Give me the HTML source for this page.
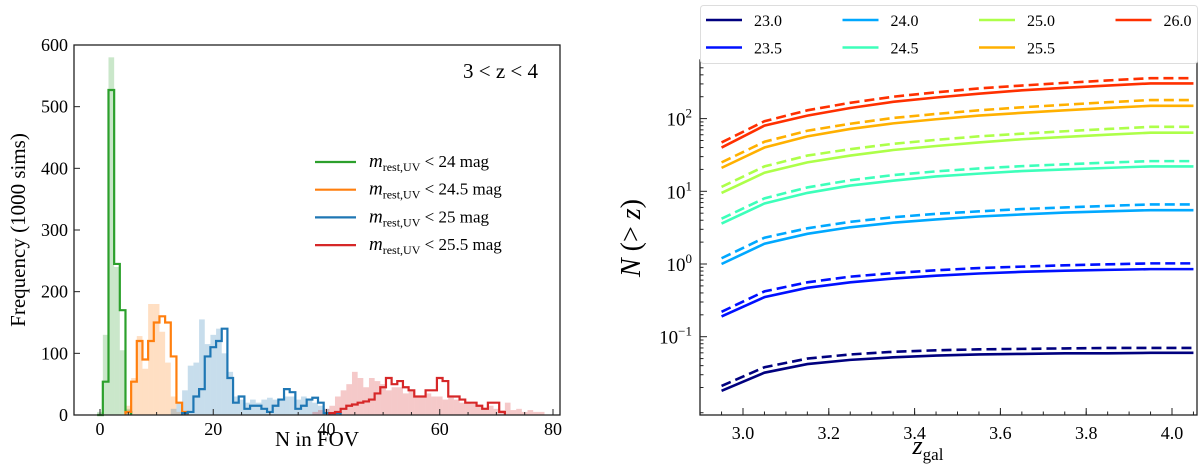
<!DOCTYPE html>
<html><head><meta charset="utf-8"><style>
body{margin:0;background:#fff;}
svg{font-family:"Liberation Serif",serif;display:block}
</style></head><body>
<svg id="fig" width="1200" height="470"></svg>
<script>
// ---- Left histogram data (bin centers = integer N) ----
const greenLineBins=[0,1,2,3,4,5];
const greenLine=[0,54,527,245,170,5];
const greenFill=[5,130,580,240,105,10];
const orangeLineBins=[5,6,7,8,9,10,11,12,13,14,15];
const orangeLine=[5,54,120,90,120,150,160,150,95,20,5];
const orangeFill=[15,60,128,75,180,180,135,85,30,5,2];
const blueLineBins=[15,16,17,18,19,20,21,22,23,24,25,26,27,28,29,30,31,32,33,34,35,36,37,38,39,40,41,42];
const blueLine=[3,5,30,42,95,110,120,140,60,20,30,10,15,15,10,5,15,25,42,37,10,15,25,28,20,3,3,3];
const blueFillBins=[13,14,15,16,17,18,19,20,21,22,23,24,25,26,27,28,29,30,31,32,33,34,35,36,37,38,39,40,41];
const blueFill=[10,20,40,80,85,155,115,130,140,100,70,30,25,20,25,20,25,28,25,25,30,30,25,30,25,20,15,10,5];
const redLineBins=[41,42,43,44,45,46,47,48,49,50,51,52,53,54,55,56,57,58,59,60,61,62,63,64,65,66,67,68,69,70,71];
const redLine=[3,5,10,15,17,20,22,25,35,45,60,50,55,45,40,30,30,40,40,60,55,30,30,25,20,20,15,10,20,20,5];
const redFillBins=[38,39,40,41,42,43,44,45,46,47,48,49,50,51,52,53,54,55,56,57,58,59,60,61,62,63,64,65,66,67,68,69,70,71,72,73,74,75,76,77,78];
const redFill=[5,8,10,15,30,40,50,70,60,45,60,55,50,40,45,45,35,40,30,30,35,30,30,25,28,25,20,20,18,15,12,15,10,8,20,8,10,5,8,5,5];
const xTicksL=[0,20,40,60,80];
const yTicksL=[0,100,200,300,400,500,600];

// ---- Right chart data ----
const zVals=[2.95,3.05,3.15,3.25,3.35,3.45,3.55,3.65,3.75,3.85,3.95,4.05];
const magLabels=["23.0","23.5","24.0","24.5","25.0","25.5","26.0"];
const magColors=["#00007f","#0010ff","#00a8ff","#3dffba","#adff49","#ffb000","#ff3000"];
const solid230=[0.018,0.032,0.042,0.048,0.052,0.055,0.057,0.058,0.059,0.059,0.06,0.06];
const dash230=[0.021,0.038,0.05,0.057,0.062,0.065,0.067,0.068,0.069,0.07,0.07,0.07];
const solid235=[0.19,0.35,0.47,0.56,0.63,0.69,0.74,0.78,0.81,0.83,0.85,0.85];
const dash235=[0.22,0.42,0.56,0.67,0.75,0.82,0.88,0.92,0.96,0.99,1.02,1.02];
const solid240=[1.0,1.9,2.6,3.2,3.7,4.1,4.5,4.8,5.1,5.3,5.5,5.5];
const dash240=[1.2,2.3,3.1,3.8,4.4,4.9,5.3,5.7,6.0,6.3,6.6,6.6];
const solid245=[3.6,6.8,9.5,12,14,16,17.5,19,20,21,22,22];
const dash245=[4.2,8,11.3,14.2,16.7,18.8,20.6,22.2,23.5,24.8,26,26];
const solid250=[9.5,18,25,31,37,42,47,52,56,60,64,64];
const dash250=[11.5,22,31,38,45,51,57,62,67,72,77,77];
const solid255=[21,40,57,72,86,98,110,120,130,140,150,150];
const dash255=[25,48,68,85,102,116,130,143,155,168,180,180];
const solid260=[40,80,110,140,170,195,220,245,265,285,305,305];
const dash260=[47,92,130,165,200,230,260,285,310,335,360,360];
const solidSeries=[solid230,solid235,solid240,solid245,solid250,solid255,solid260];
const dashSeries=[dash230,dash235,dash240,dash245,dash250,dash255,dash260];
const xTicksR=[3.0,3.2,3.4,3.6,3.8,4.0];
const yDecades=[-1,0,1,2];

const NS="http://www.w3.org/2000/svg";
const svg=document.getElementById('fig');
function mk(tag,attrs,parent){const e=document.createElementNS(NS,tag);for(const k in attrs)e.setAttribute(k,attrs[k]);(parent||svg).appendChild(e);return e;}

// ===== LEFT =====
const L={x0:74,x1:560,y0:45,y1:415};
const xL=v=>100+v*(453/80);
const yL=v=>415-v*(370/600);
const gL=mk('g',{});


function fillBars(bins,vals,color,name){
  const g=mk('g',{},gL);
  
  
  bins.forEach((b,i)=>{const r=mk('rect',{x:xL(b-0.5),y:yL(vals[i]),width:xL(b+0.5)-xL(b-0.5),height:yL(0)-yL(vals[i]),fill:color,'fill-opacity':0.25},g);
    
    });
}
function stepLine(bins,vals,color,name){
  let d=`M${xL(bins[0]-0.5)},${yL(0)}`;
  bins.forEach((b,i)=>{d+=`L${xL(b-0.5)},${yL(vals[i])}L${xL(b+0.5)},${yL(vals[i])}`;});
  d+=`L${xL(bins[bins.length-1]+0.5)},${yL(0)}`;
  const p=mk('path',{d:d,fill:'none',stroke:color,'stroke-width':2.2},gL);
  
  
}
fillBars(greenLineBins,greenFill,'#2ca02c','fill-24mag');
fillBars(orangeLineBins,orangeFill,'#ff7f0e','fill-24-5mag');
fillBars(blueFillBins,blueFill,'#1f77b4','fill-25mag');
fillBars(redFillBins,redFill,'#d62728','fill-25-5mag');
stepLine(greenLineBins,greenLine,'#2ca02c','step-24mag');
stepLine(orangeLineBins,orangeLine,'#ff7f0e','step-24-5mag');
stepLine(blueLineBins,blueLine,'#1f77b4','step-25mag');
stepLine(redLineBins,redLine,'#d62728','step-25-5mag');
const fr=mk('rect',{x:L.x0,y:L.y0,width:L.x1-L.x0,height:L.y1-L.y0,fill:'none',stroke:'#222','stroke-width':1.3},gL);

xTicksL.forEach(t=>{mk('line',{x1:xL(t),x2:xL(t),y1:L.y1,y2:L.y1-6,stroke:'#222'},gL);
  const tx=mk('text',{x:xL(t),y:L.y1+20,'text-anchor':'middle','font-size':18},gL);tx.textContent=t;
  });
for(let t=5;t<80;t+=5){if(t%20)mk('line',{x1:xL(t),x2:xL(t),y1:L.y1,y2:L.y1-3,stroke:'#222'},gL);}
yTicksL.forEach(t=>{mk('line',{x1:L.x0,x2:L.x0+6,y1:yL(t),y2:yL(t),stroke:'#222'},gL);
  const tx=mk('text',{x:L.x0-6,y:yL(t)+6,'text-anchor':'end','font-size':18},gL);tx.textContent=t;
  });
let t=mk('text',{x:25,y:230,'text-anchor':'middle','font-size':21,transform:'rotate(-90 25 230)'},gL);t.textContent='Frequency (1000 sims)';

t=mk('text',{x:317,y:446,'text-anchor':'middle','font-size':21},gL);t.textContent='N in FOV';

t=mk('text',{x:538,y:78,'text-anchor':'end','font-size':21},gL);t.textContent='3 < z < 4';

const legL=[['#2ca02c','24'],['#ff7f0e','24.5'],['#1f77b4','25'],['#d62728','25.5']];
legL.forEach((e,i)=>{const y=162+i*27.7;const g=mk('g',{},gL);
  
  mk('line',{x1:315,x2:356,y1:y,y2:y,stroke:e[0],'stroke-width':2.2},g);
  const tx=mk('text',{x:369,y:y+5,'font-size':17},g);
  tx.innerHTML=`<tspan font-style="italic" font-size="19">m</tspan><tspan font-size="12" dy="4">rest,UV</tspan><tspan dy="-4"> &lt; ${e[1]} mag</tspan>`;});

// ===== RIGHT =====
const R={x0:700,x1:1197,y0:60,y1:415};
const xR=v=>743+(v-3.0)*(429/1.0);
const yR=v=>264-Math.log10(v)*72.7;
const gR=mk('g',{});

solidSeries.forEach((s,k)=>{
  const d=s.map((v,i)=>(i?'L':'M')+xR(zVals[i])+','+yR(v)).join('');
  const p=mk('path',{d:d,fill:'none',stroke:magColors[k],'stroke-width':2.6},gR);
  
  const dd=dashSeries[k].map((v,i)=>(i?'L':'M')+xR(zVals[i])+','+yR(v)).join('');
  const q=mk('path',{d:dd,fill:'none',stroke:magColors[k],'stroke-width':2.6,'stroke-dasharray':'10,5'},gR);
  
});
const fr2=mk('rect',{x:R.x0,y:R.y0,width:R.x1-R.x0,height:R.y1-R.y0,fill:'none',stroke:'#222','stroke-width':1.3},gR);

xTicksR.forEach(v=>{mk('line',{x1:xR(v),x2:xR(v),y1:R.y1,y2:R.y1-7,stroke:'#222'},gR);
  const tx=mk('text',{x:xR(v),y:R.y1+24,'text-anchor':'middle','font-size':18},gR);tx.textContent=v.toFixed(1);
  });
for(let v=2.9;v<4.1;v+=0.05){const px=xR(v);if(px>R.x0&&px<R.x1)mk('line',{x1:px,x2:px,y1:R.y1,y2:R.y1-3.5,stroke:'#222'},gR);}
yDecades.forEach(dcd=>{mk('line',{x1:R.x0,x2:R.x0+7,y1:yR(Math.pow(10,dcd)),y2:yR(Math.pow(10,dcd)),stroke:'#222'},gR);
  const tx=mk('text',{x:R.x0-8,y:yR(Math.pow(10,dcd))+7,'text-anchor':'end','font-size':19},gR);
  tx.innerHTML=`10<tspan font-size="13" dy="-8">${dcd<0?'−'+(-dcd):dcd}</tspan>`;
  });
for(let dcd=-3;dcd<=2;dcd++)for(let m=2;m<10;m++){const py=yR(m*Math.pow(10,dcd));if(py>R.y0&&py<R.y1)mk('line',{x1:R.x0,x2:R.x0+3.5,y1:py,y2:py,stroke:'#222'},gR);}
t=mk('text',{x:640,y:238,'text-anchor':'middle','font-size':28,transform:'rotate(-90 640 238)'},gR);
t.innerHTML='<tspan font-style="italic">N</tspan> (&gt; <tspan font-style="italic">z</tspan>)';

t=mk('text',{x:928,y:454,'text-anchor':'middle','font-size':26},gR);
t.innerHTML='<tspan font-style="italic">z</tspan><tspan font-size="17" dy="6">gal</tspan>';

const lb=mk('rect',{x:700.5,y:5.5,width:497,height:58,fill:'#fff',stroke:'#ddd',rx:3},gR);

magLabels.forEach((lab,k)=>{const col=Math.floor(k/2),row=k%2;const cx=706+col*136.5,cy=20+row*27.5;
  const g=mk('g',{},gR);
  
  mk('line',{x1:cx,x2:cx+36,y1:cy,y2:cy,stroke:magColors[k],'stroke-width':2.6},g);
  const tx=mk('text',{x:cx+48,y:cy+6,'font-size':16},g);tx.textContent=lab;});
</script>
</body></html>
